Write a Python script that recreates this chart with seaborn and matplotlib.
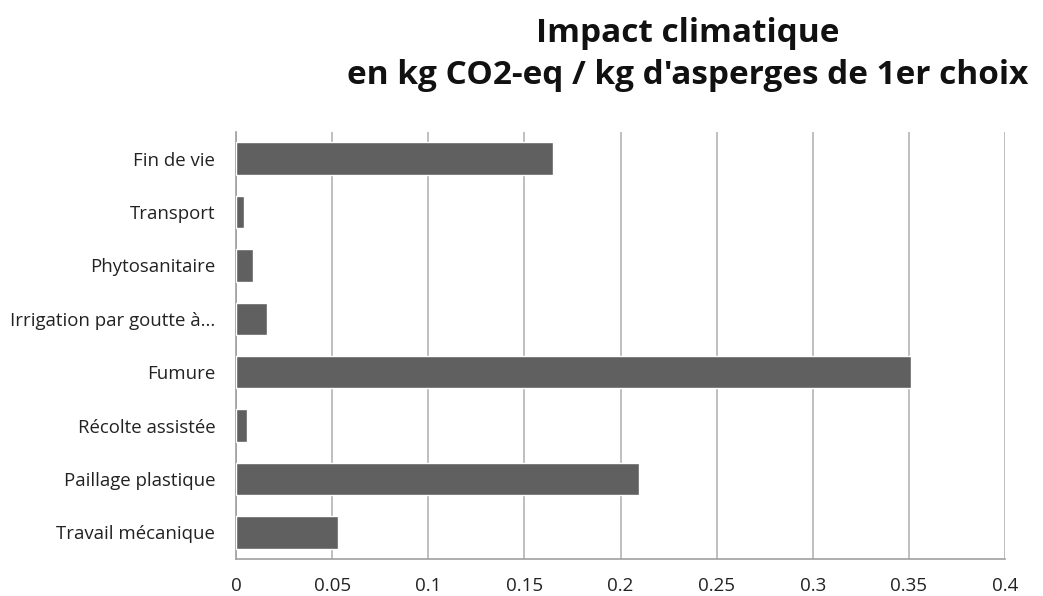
import matplotlib
matplotlib.use("Agg")
import matplotlib.pyplot as plt
import seaborn as sns
import pandas as pd

# ── Données ───────────────────────────────────────────────────────────────────
categories = ["Fin de vie", "Transport", "Phytosanitaire", "Irrigation par goutte à...",
              "Fumure", "Récolte assistée", "Paillage plastique", "Travail mécanique"]
valeurs = [0.165, 0.0041, 0.0089, 0.0163, 0.351, 0.0056, 0.2097, 0.053]
ticks_x = [0, 0.05, 0.1, 0.15, 0.2, 0.25, 0.3, 0.35, 0.4]
tick_labels = ["0", "0.05", "0.1", "0.15", "0.2", "0.25", "0.3", "0.35", "0.4"]

df = pd.DataFrame({"categorie": categories, "valeur": valeurs})

sns.set_style("white")
plt.rcParams['font.family'] = ['Open Sans', 'DejaVu Sans']

fig = plt.figure(figsize=(10.43, 5.96), dpi=100)
ax = fig.add_axes([236 / 1043, 1 - 559 / 596, (1005 - 236) / 1043, (559 - 132) / 596])

sns.barplot(data=df, x="valeur", y="categorie", color="#606060", saturation=1,
            width=0.61, ax=ax, zorder=3)

ax.set_xlim(0, 0.4)
ax.set_xticks(ticks_x)
ax.set_xticklabels(tick_labels, fontsize=13.5, color="#222222")
ax.tick_params(axis="y", labelsize=13.4, labelcolor="#222222", length=0, pad=15)
ax.tick_params(axis="x", length=0, pad=13)
ax.set_xlabel("")
ax.set_ylabel("")
ax.grid(axis="x", color="#b4b4b4", linewidth=1.2, zorder=0)
for s in ["top", "right"]:
    ax.spines[s].set_visible(False)
for s in ["left", "bottom"]:
    ax.spines[s].set_color("#a0a0a0")
    ax.spines[s].set_linewidth(1.2)

fig.text(688 / 1043, 1 - 34 / 596, "Impact climatique", ha="center", va="center",
         fontsize=24, fontweight="bold", color="#111111")
fig.text(688 / 1043, 1 - 75 / 596, "en kg CO2-eq / kg d'asperges de 1er choix", ha="center",
         va="center", fontsize=24, fontweight="bold", color="#111111")

fig.savefig("out.png", dpi=100)
